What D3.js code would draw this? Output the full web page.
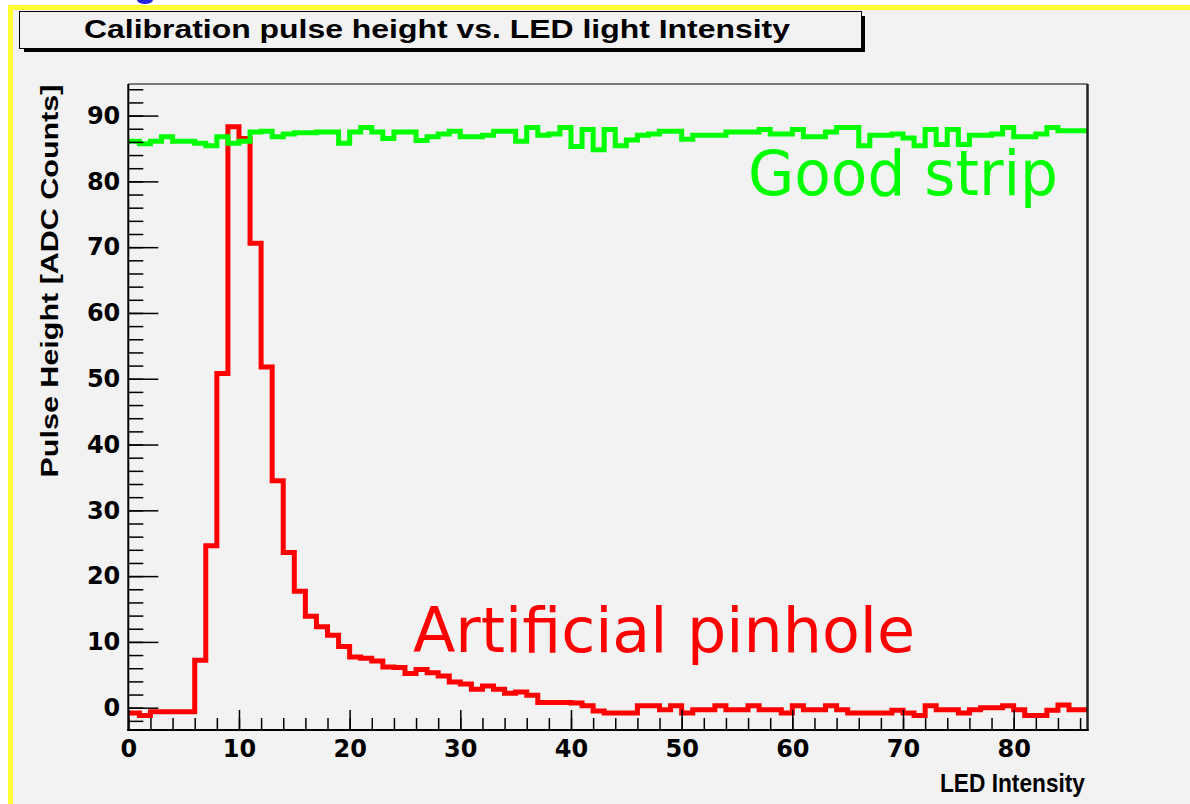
<!DOCTYPE html>
<html>
<head>
<meta charset="utf-8">
<script src="https://cdn.jsdelivr.net/npm/d3@7"></script>
<style>
  html, body { margin: 0; padding: 0; background: #ffffff; }
  svg { display: block; }
</style>
</head>
<body>
<svg id="chart" width="1190" height="804"></svg>
<script>
// bin contents, one value per unit-wide bin starting at 0
const pinholeBins = [
  -0.8, -1.2, -0.6, -0.6, -0.6, -0.6, 7.2, 24.6, 50.8, 88.3,
  86.5, 70.6, 51.8, 34.5, 23.6, 17.7, 13.9, 12.3, 11.0, 9.3,
  7.7, 7.5, 7.1, 6.2, 6.1, 5.2, 5.8, 5.3, 4.8, 3.9,
  3.6, 2.8, 3.3, 2.8, 2.2, 2.4, 1.9, 0.8, 0.8, 0.8,
  0.7, 0.3, -0.5, -0.8, -0.8, -0.8, 0.3, 0.3, -0.3, 0.3,
  -0.8, -0.3, -0.3, 0.3, -0.3, -0.3, 0.3, -0.3, -0.3, -0.8,
  0.3, -0.3, -0.3, 0.3, -0.3, -0.8, -0.8, -0.8, -0.8, -0.4,
  -0.8, -1.2, 0.3, -0.3, -0.3, -0.8, -0.3, 0.0, 0.0, 0.3,
  -0.3, -1.2, -1.2, -0.4, 0.4, -0.3, -0.3
];

const goodStripBins = [
  86.1, 85.7, 86.1, 86.8, 86.1, 86.1, 85.8, 85.4, 86.8, 85.8,
  86.1, 87.5, 87.6, 86.8, 87.2, 87.4, 87.4, 87.5, 87.5, 85.8,
  87.5, 88.2, 87.5, 86.5, 87.5, 87.5, 86.2, 86.8, 87.2, 87.6,
  86.8, 86.8, 87.0, 87.6, 87.6, 86.1, 88.2, 87.0, 87.2, 88.2,
  85.3, 87.9, 84.8, 87.9, 85.4, 86.3, 87.0, 87.2, 87.6, 87.6,
  86.4, 87.0, 87.0, 87.0, 87.5, 87.5, 87.5, 87.9, 87.2, 87.2,
  87.9, 86.8, 86.8, 87.5, 88.2, 88.2, 85.4, 87.0, 87.0, 87.2,
  86.6, 85.4, 87.9, 85.6, 87.9, 85.6, 87.0, 87.0, 87.2, 88.2,
  86.8, 86.8, 87.2, 88.2, 87.7, 87.7, 87.7
];

const xMajorTicks = [0, 10, 20, 30, 40, 50, 60, 70, 80];
const yMajorTicks = [0, 10, 20, 30, 40, 50, 60, 70, 80, 90];

const titleText = 'Calibration pulse height vs. LED light Intensity';
const xTitle = 'LED Intensity';
const yTitle = 'Pulse Height [ADC Counts]';

var svg = d3.select('#chart');
var boldFont = '"Liberation Sans", Arial, Helvetica, sans-serif';
var tickFont = '"DejaVu Sans", Verdana, sans-serif';

var plot = { left: 128.3, right: 1087.5, top: 84, bottom: 730 };

var x = d3.scaleLinear().domain([0, 86.67]).range([plot.left, plot.right]);
var y = d3.scaleLinear().domain([-3.39, 94.8]).range([plot.bottom, plot.top]);

// page background + yellow slide border
svg.append('rect').attr('width', 1190).attr('height', 804).attr('fill', '#ffffff');
svg.append('rect').attr('x', 8).attr('y', 5).attr('width', 1182).attr('height', 799).attr('fill', '#f2f2f2');
svg.append('rect').attr('x', 8).attr('y', 5).attr('width', 1182).attr('height', 5).attr('fill', '#ffff33');
svg.append('rect').attr('x', 8).attr('y', 5).attr('width', 5).attr('height', 799).attr('fill', '#ffff33');
// leftover of cut-off slide text
svg.append('ellipse').attr('cx', 145).attr('cy', 0).attr('rx', 8).attr('ry', 4).attr('fill', '#2222dd');

// title pave with shadow
svg.append('rect').attr('x', 24).attr('y', 48).attr('width', 841).attr('height', 4).attr('fill', '#000');
svg.append('rect').attr('x', 861).attr('y', 16).attr('width', 4).attr('height', 36).attr('fill', '#000');
svg.append('rect').attr('x', 19.5).attr('y', 11.5).attr('width', 842).attr('height', 37)
  .attr('fill', '#f2f2f2').attr('stroke', '#000').attr('stroke-width', 1);
svg.append('text')
  .attr('x', 84).attr('y', 38)
  .attr('font-family', boldFont).attr('font-weight', 'bold').attr('font-size', 26)
  .attr('textLength', 706).attr('lengthAdjust', 'spacingAndGlyphs')
  .attr('fill', '#000')
  .text(titleText);

// histograms
svg.append('clipPath').attr('id', 'plotClip')
  .append('rect')
  .attr('x', plot.left).attr('y', plot.top)
  .attr('width', plot.right - plot.left).attr('height', plot.bottom - plot.top);

function stepPoints(bins) {
  var pts = bins.map(function(v, i) { return [i, v]; });
  pts.push([bins.length, bins[bins.length - 1]]);
  return pts;
}

var step = d3.line()
  .x(function(d) { return x(d[0]); })
  .y(function(d) { return y(d[1]); })
  .curve(d3.curveStepAfter);

var hists = svg.append('g').attr('clip-path', 'url(#plotClip)');
hists.append('path')
  .attr('d', step(stepPoints(pinholeBins)))
  .attr('fill', 'none').attr('stroke', '#ff0000').attr('stroke-width', 5)
  .attr('stroke-linejoin', 'miter');
hists.append('path')
  .attr('d', step(stepPoints(goodStripBins)))
  .attr('fill', 'none').attr('stroke', '#00ff00').attr('stroke-width', 5)
  .attr('stroke-linejoin', 'miter');

// axes (ticks point into the frame)
var yMinor = d3.range(-2, 95, 2);
var xMinor = d3.range(0, 87, 2);

svg.append('g')
  .attr('transform', 'translate(' + plot.left + ',0)')
  .call(d3.axisLeft(y).tickValues(yMinor).tickSize(-15).tickSizeOuter(0).tickFormat(''))
  .call(function(g) { g.select('.domain').remove(); });

svg.append('g')
  .attr('transform', 'translate(0,' + plot.bottom + ')')
  .call(d3.axisBottom(x).tickValues(xMinor).tickSize(-12).tickSizeOuter(0).tickFormat(''))
  .call(function(g) { g.select('.domain').remove(); });

var yAxis = svg.append('g')
  .attr('transform', 'translate(' + plot.left + ',0)')
  .call(d3.axisLeft(y).tickValues(yMajorTicks).tickSize(-30).tickSizeOuter(0).tickPadding(8));
yAxis.select('.domain').remove();

var xAxis = svg.append('g')
  .attr('transform', 'translate(0,' + plot.bottom + ')')
  .call(d3.axisBottom(x).tickValues(xMajorTicks).tickSize(-20).tickSizeOuter(0).tickPadding(10));
xAxis.select('.domain').remove();

svg.selectAll('.tick line').attr('stroke', '#000').attr('stroke-width', 1.5);
svg.selectAll('.tick text')
  .attr('font-family', tickFont).attr('font-weight', 'bold').attr('font-size', 24)
  .attr('fill', '#000');

// frame
svg.append('line').attr('x1', plot.left).attr('x2', plot.right).attr('y1', plot.top).attr('y2', plot.top)
  .attr('stroke', '#000').attr('stroke-width', 1.2);
svg.append('line').attr('x1', plot.right).attr('x2', plot.right).attr('y1', plot.top).attr('y2', plot.bottom + 1)
  .attr('stroke', '#222').attr('stroke-width', 2.5);
svg.append('line').attr('x1', plot.left).attr('x2', plot.left).attr('y1', plot.top).attr('y2', plot.bottom + 1)
  .attr('stroke', '#000').attr('stroke-width', 2);
svg.append('line').attr('x1', plot.left - 1).attr('x2', plot.right + 1).attr('y1', plot.bottom).attr('y2', plot.bottom)
  .attr('stroke', '#000').attr('stroke-width', 2);

// axis titles
svg.append('text')
  .attr('x', 1085).attr('y', 792)
  .attr('text-anchor', 'end')
  .attr('font-family', boldFont).attr('font-weight', 'bold').attr('font-size', 25)
  .attr('textLength', 145).attr('lengthAdjust', 'spacingAndGlyphs')
  .attr('fill', '#000')
  .text(xTitle);

svg.append('text')
  .attr('transform', 'translate(58,281) rotate(-90)')
  .attr('text-anchor', 'middle')
  .attr('font-family', boldFont).attr('font-weight', 'bold').attr('font-size', 23)
  .attr('textLength', 393).attr('lengthAdjust', 'spacingAndGlyphs')
  .attr('fill', '#000')
  .text(yTitle);

// annotations
svg.append('text')
  .attr('x', 748).attr('y', 195)
  .attr('font-family', '"DejaVu Sans", Verdana, sans-serif').attr('font-size', 62)
  .attr('textLength', 310).attr('lengthAdjust', 'spacingAndGlyphs')
  .attr('fill', '#00ff00')
  .text('Good strip');

svg.append('text')
  .attr('x', 413).attr('y', 652)
  .attr('font-family', '"DejaVu Sans", Verdana, sans-serif').attr('font-size', 62)
  .attr('textLength', 502).attr('lengthAdjust', 'spacingAndGlyphs')
  .attr('fill', '#ff0000')
  .text('Artificial pinhole');
</script>
</body>
</html>
